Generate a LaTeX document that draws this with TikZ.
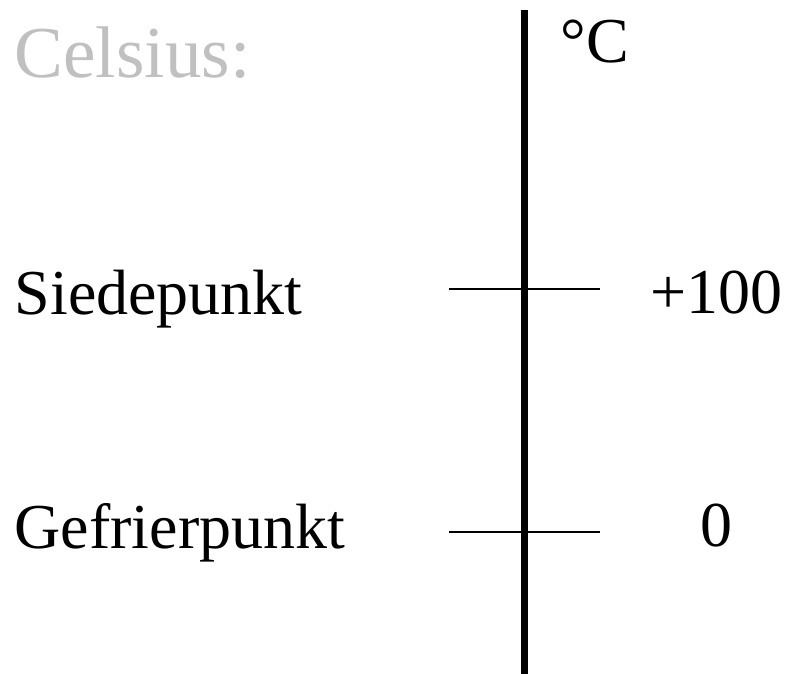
\documentclass[tikz,border=0pt]{standalone}
\usepackage{fontspec}
\setmainfont{Liberation Serif}
\usepackage{tikz}
\usetikzlibrary{positioning}
\definecolor{titleGray}{RGB}{192,192,192}

\begin{document}
\begin{tikzpicture}[x=0.01cm, y=-0.01cm,
    every node/.style={inner sep=0pt, anchor=base west, font=\fontsize{18.2}{22}\selectfont},
    axisline/.style={line width=0.07cm},
    tickline/.style={line width=0.02cm}]
  \useasboundingbox (0,0) rectangle (786,674);
  \node[text=titleGray, font=\fontsize{20.8}{25}\selectfont] (title) at (14,78) {Celsius:};
  \coordinate (top) at (524,10);
  \coordinate (bot) at (524,674);
  \draw[axisline] (top) -- (bot);
  \node (unit) at (560,63) {°C};
  % Siedepunkt
  \coordinate (s1) at (449,289);
  \coordinate (s2) at (600,289);
  \draw[tickline] (s1) -- (s2);
  \node (boil) at (14,315) {Siedepunkt};
  \node (boilval) at (650,314) {+100};
  % Gefrierpunkt
  \coordinate (g1) at (449,532);
  \coordinate (g2) at (600,532);
  \draw[tickline] (g1) -- (g2);
  \node (freeze) at (14,548) {Gefrierpunkt};
  \node (freezeval) at (700,546) {0};
\end{tikzpicture}
\end{document}
